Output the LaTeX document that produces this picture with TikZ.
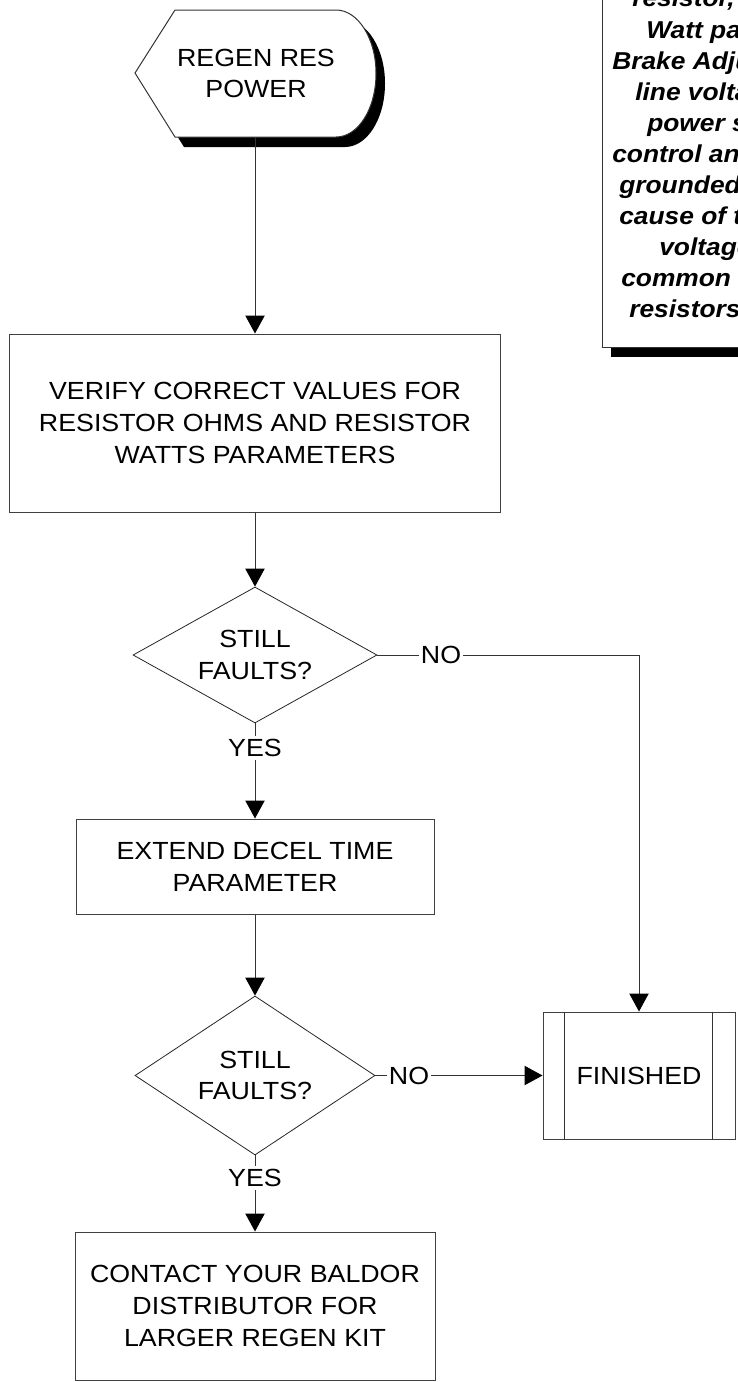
\documentclass[tikz,border=0pt]{standalone}
\usepackage{fontspec}
\setmainfont{Liberation Sans}[FakeStretch=1.08]
\usetikzlibrary{arrows.meta,shapes.geometric,calc}
\begin{document}
\begin{tikzpicture}[x=0.75pt,y=-0.75pt,
  every node/.style={font=\fontsize{18.6}{23.8}\selectfont},
  edge/.style={draw=black!80, line width=0.75pt},
  arrowed/.style={edge, -{Triangle[length=13.5pt,width=14.5pt,color=black]}},
  procbox/.style={draw=black!75, line width=0.75pt, fill=white, align=center, inner sep=0pt},
  decision/.style={diamond, draw=black!85, line width=0.6pt, fill=white, align=center, inner sep=0pt, aspect=1.8},
  lbl/.style={inner xsep=1.5pt, inner ysep=2.5pt, text height=13.2pt, text depth=0pt},
  notetext/.style={anchor=base west, inner sep=0pt, font=\fontsize{18.3}{23}\selectfont\bfseries\itshape}]

\useasboundingbox (0,0) rectangle (738,1382);

% ---- terminal display shape with drop shadow ----
\fill[black] (144,83) -- (184,20) -- (345,20)
  .. controls (367,20) and (385,48.4) .. (385,83.5)
  .. controls (385,119) and (367,147) .. (345,147) -- (184,147) -- cycle;
\draw[edge, fill=white] (135,73) -- (175,10) -- (336,10)
  .. controls (358,10) and (376,38.4) .. (376,73.5)
  .. controls (376,109) and (358,137) .. (336,137) -- (175,137) -- cycle;
\node[align=center] (start) at (256,73.5) {REGEN RES\\POWER};
\coordinate (startbot) at (255,137);

% ---- process steps ----
\node[procbox, minimum width=368.25pt, minimum height=133.5pt] (verify) at (255,423)
  {VERIFY CORRECT VALUES FOR\\RESISTOR OHMS AND RESISTOR\\WATTS PARAMETERS};
\node[decision, minimum width=183pt, minimum height=102pt] (d1) at (255,655) {STILL\\FAULTS?};
\node[procbox, minimum width=268.5pt, minimum height=71.25pt] (extend) at (255,866.5)
  {EXTEND DECEL TIME\\PARAMETER};
\node[decision, minimum width=180pt, minimum height=119.25pt] (d2) at (255,1075.5) {STILL\\FAULTS?};
\node[procbox, minimum width=270pt, minimum height=111pt] (contact) at (255,1306)
  {CONTACT YOUR BALDOR\\DISTRIBUTOR FOR\\LARGER REGEN KIT};
\node[procbox, minimum width=144pt, minimum height=95.25pt] (fin) at (639,1075.5) {FINISHED};
\draw[edge] ($(fin.north west)+(22,0)$) -- ($(fin.south west)+(22,0)$);
\draw[edge] ($(fin.north east)+(-23,0)$) -- ($(fin.south east)+(-23,0)$);

% ---- branch labels ----
\node[lbl] (no1) at (441,655) {NO};
\node[lbl] (yes1) at (255,748) {YES};
\node[lbl] (no2) at (409,1075.5) {NO};
\node[lbl] (yes2) at (255,1178) {YES};

% ---- connectors ----
\draw[arrowed] (startbot) -- (startbot |- verify.north);
\draw[arrowed] (verify.south) -- (d1.north);
\draw[edge] (d1.east) -- (no1.west);
\draw[arrowed] (no1.east) -| (fin.north);
\draw[edge] (d1.south) -- (yes1.north);
\draw[arrowed] (yes1.south) -- (extend.north);
\draw[arrowed] (extend.south) -- (d2.north);
\draw[edge] (d2.east) -- (no2.west);
\draw[arrowed] (no2.east) -- (fin.west);
\draw[edge] (d2.south) -- (yes2.north);
\draw[arrowed] (yes2.south) -- (contact.north);

% ---- note panel at the upper right ----
\begin{scope}
  \clip (0,0) rectangle (738,1382);
  \fill[black] (611,347) rectangle (760,357);
  \draw[edge] (602,-5) -- (602,347) -- (760,347);
  \node[notetext] (n1) at (632,6) {resistor,};
  \node[notetext] (n2) at (646,38) {Watt pa};
  \node[notetext] (n3) at (612,69.5) {Brake Adju};
  \node[notetext] (n4) at (635,100) {line volta};
  \node[notetext] (n5) at (647,131) {power s};
  \node[notetext] (n6) at (612,162) {control an};
  \node[notetext] (n7) at (619,193) {grounded};
  \node[notetext] (n8) at (619,224) {cause of th};
  \node[notetext] (n9) at (659,255) {voltage};
  \node[notetext] (n10) at (621,286) {common};
  \node[notetext] (n11) at (629,317) {resistors};
\end{scope}
\end{tikzpicture}
\end{document}
